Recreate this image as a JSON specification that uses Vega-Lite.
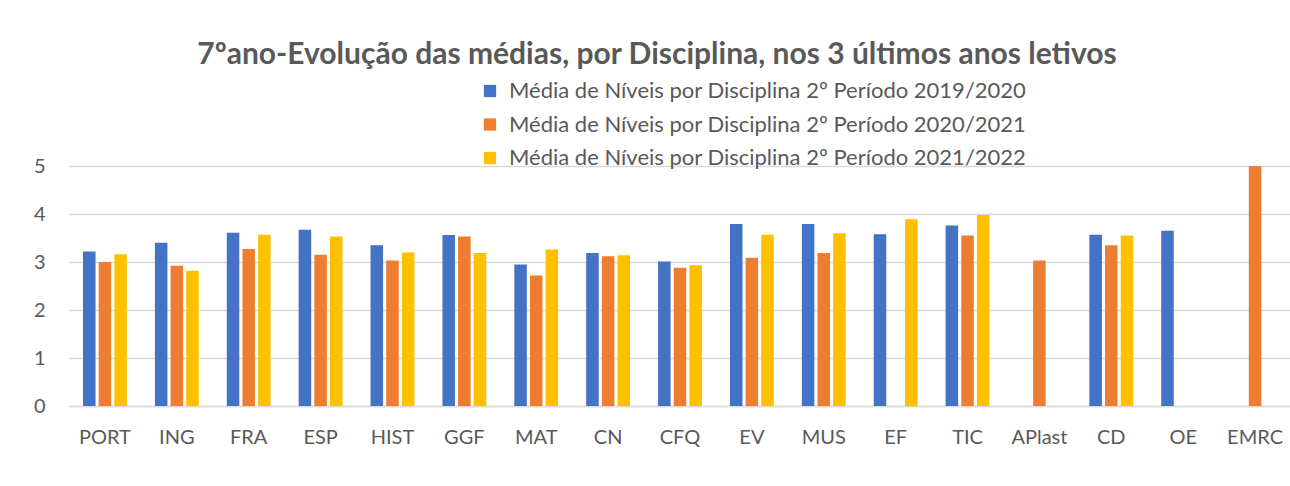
{
  "$schema": "https://vega.github.io/schema/vega-lite/v6.json",
  "width": 1222,
  "height": 240,
  "autosize": {"type": "none"},
  "padding": {"left": 69, "top": 166, "right": 0, "bottom": 81},
  "background": "white",
  "config": {"view": {"stroke": null}, "font": "Lato"},
  "title": {
    "text": "7ºano-Evolução das médias, por Disciplina, nos 3 últimos anos letivos",
    "font": "Lato",
    "fontSize": 30,
    "fontWeight": "bold",
    "color": "#595959",
    "anchor": "middle",
    "dx": -23,
    "offset": 10
  },
  "data": {
    "values": [
      {"d": "PORT", "s": "Média de Níveis por Disciplina 2º Período 2019/2020", "v": 3.22},
      {"d": "PORT", "s": "Média de Níveis por Disciplina 2º Período 2020/2021", "v": 3.0},
      {"d": "PORT", "s": "Média de Níveis por Disciplina 2º Período 2021/2022", "v": 3.16},
      {"d": "ING", "s": "Média de Níveis por Disciplina 2º Período 2019/2020", "v": 3.4},
      {"d": "ING", "s": "Média de Níveis por Disciplina 2º Período 2020/2021", "v": 2.92},
      {"d": "ING", "s": "Média de Níveis por Disciplina 2º Período 2021/2022", "v": 2.82},
      {"d": "FRA", "s": "Média de Níveis por Disciplina 2º Período 2019/2020", "v": 3.61},
      {"d": "FRA", "s": "Média de Níveis por Disciplina 2º Período 2020/2021", "v": 3.27},
      {"d": "FRA", "s": "Média de Níveis por Disciplina 2º Período 2021/2022", "v": 3.57},
      {"d": "ESP", "s": "Média de Níveis por Disciplina 2º Período 2019/2020", "v": 3.67},
      {"d": "ESP", "s": "Média de Níveis por Disciplina 2º Período 2020/2021", "v": 3.15},
      {"d": "ESP", "s": "Média de Níveis por Disciplina 2º Período 2021/2022", "v": 3.53},
      {"d": "HIST", "s": "Média de Níveis por Disciplina 2º Período 2019/2020", "v": 3.35},
      {"d": "HIST", "s": "Média de Níveis por Disciplina 2º Período 2020/2021", "v": 3.03},
      {"d": "HIST", "s": "Média de Níveis por Disciplina 2º Período 2021/2022", "v": 3.2},
      {"d": "GGF", "s": "Média de Níveis por Disciplina 2º Período 2019/2020", "v": 3.56},
      {"d": "GGF", "s": "Média de Níveis por Disciplina 2º Período 2020/2021", "v": 3.53},
      {"d": "GGF", "s": "Média de Níveis por Disciplina 2º Período 2021/2022", "v": 3.19},
      {"d": "MAT", "s": "Média de Níveis por Disciplina 2º Período 2019/2020", "v": 2.95},
      {"d": "MAT", "s": "Média de Níveis por Disciplina 2º Período 2020/2021", "v": 2.72},
      {"d": "MAT", "s": "Média de Níveis por Disciplina 2º Período 2021/2022", "v": 3.26},
      {"d": "CN", "s": "Média de Níveis por Disciplina 2º Período 2019/2020", "v": 3.19},
      {"d": "CN", "s": "Média de Níveis por Disciplina 2º Período 2020/2021", "v": 3.12},
      {"d": "CN", "s": "Média de Níveis por Disciplina 2º Período 2021/2022", "v": 3.14},
      {"d": "CFQ", "s": "Média de Níveis por Disciplina 2º Período 2019/2020", "v": 3.01},
      {"d": "CFQ", "s": "Média de Níveis por Disciplina 2º Período 2020/2021", "v": 2.88},
      {"d": "CFQ", "s": "Média de Níveis por Disciplina 2º Período 2021/2022", "v": 2.93},
      {"d": "EV", "s": "Média de Níveis por Disciplina 2º Período 2019/2020", "v": 3.79},
      {"d": "EV", "s": "Média de Níveis por Disciplina 2º Período 2020/2021", "v": 3.09},
      {"d": "EV", "s": "Média de Níveis por Disciplina 2º Período 2021/2022", "v": 3.57},
      {"d": "MUS", "s": "Média de Níveis por Disciplina 2º Período 2019/2020", "v": 3.79},
      {"d": "MUS", "s": "Média de Níveis por Disciplina 2º Período 2020/2021", "v": 3.19},
      {"d": "MUS", "s": "Média de Níveis por Disciplina 2º Período 2021/2022", "v": 3.6},
      {"d": "EF", "s": "Média de Níveis por Disciplina 2º Período 2019/2020", "v": 3.58},
      {"d": "EF", "s": "Média de Níveis por Disciplina 2º Período 2021/2022", "v": 3.89},
      {"d": "TIC", "s": "Média de Níveis por Disciplina 2º Período 2019/2020", "v": 3.76},
      {"d": "TIC", "s": "Média de Níveis por Disciplina 2º Período 2020/2021", "v": 3.55},
      {"d": "TIC", "s": "Média de Níveis por Disciplina 2º Período 2021/2022", "v": 3.98},
      {"d": "APlast", "s": "Média de Níveis por Disciplina 2º Período 2020/2021", "v": 3.03},
      {"d": "CD", "s": "Média de Níveis por Disciplina 2º Período 2019/2020", "v": 3.57},
      {"d": "CD", "s": "Média de Níveis por Disciplina 2º Período 2020/2021", "v": 3.35},
      {"d": "CD", "s": "Média de Níveis por Disciplina 2º Período 2021/2022", "v": 3.55},
      {"d": "OE", "s": "Média de Níveis por Disciplina 2º Período 2019/2020", "v": 3.65},
      {"d": "EMRC", "s": "Média de Níveis por Disciplina 2º Período 2020/2021", "v": 5.0}
    ]
  },
  "mark": {"type": "bar"},
  "encoding": {
    "x": {
      "field": "d",
      "type": "nominal",
      "sort": ["PORT", "ING", "FRA", "ESP", "HIST", "GGF", "MAT", "CN", "CFQ", "EV", "MUS", "EF", "TIC", "APlast", "CD", "OE", "EMRC"],
      "scale": {"paddingInner": 0.39, "paddingOuter": 0.195},
      "axis": {
        "title": null,
        "labelAngle": 0,
        "labelFontSize": 20,
        "labelColor": "#595959",
        "labelPadding": 21,
        "ticks": false,
        "domain": true,
        "domainColor": "#d9d9d9",
        "domainWidth": 1.5,
        "grid": false
      }
    },
    "xOffset": {
      "field": "s",
      "type": "nominal",
      "scale": {
        "domain": [
          "Média de Níveis por Disciplina 2º Período 2019/2020",
          "Média de Níveis por Disciplina 2º Período 2020/2021",
          "Média de Níveis por Disciplina 2º Período 2021/2022"
        ],
        "paddingInner": 0.2,
        "paddingOuter": 0
      }
    },
    "y": {
      "field": "v",
      "type": "quantitative",
      "scale": {"domain": [0, 5], "nice": false},
      "axis": {
        "title": null,
        "values": [0, 1, 2, 3, 4, 5],
        "labelFontSize": 20,
        "labelColor": "#595959",
        "labelPadding": 24,
        "ticks": false,
        "domain": false,
        "grid": true,
        "gridColor": "#d9d9d9",
        "gridWidth": 1.5
      }
    },
    "color": {
      "field": "s",
      "type": "nominal",
      "scale": {
        "domain": [
          "Média de Níveis por Disciplina 2º Período 2019/2020",
          "Média de Níveis por Disciplina 2º Período 2020/2021",
          "Média de Níveis por Disciplina 2º Período 2021/2022"
        ],
        "range": ["#4472C4", "#ED7D31", "#FFC000"]
      },
      "legend": {
        "title": null,
        "orient": "none",
        "legendX": 410,
        "legendY": -86,
        "symbolType": "square",
        "symbolSize": 150,
        "symbolStrokeWidth": 0,
        "labelFontSize": 22,
        "labelLimit": 700,
        "labelColor": "#595959",
        "labelOffset": 8,
        "rowPadding": 11.5
      }
    }
  }
}
